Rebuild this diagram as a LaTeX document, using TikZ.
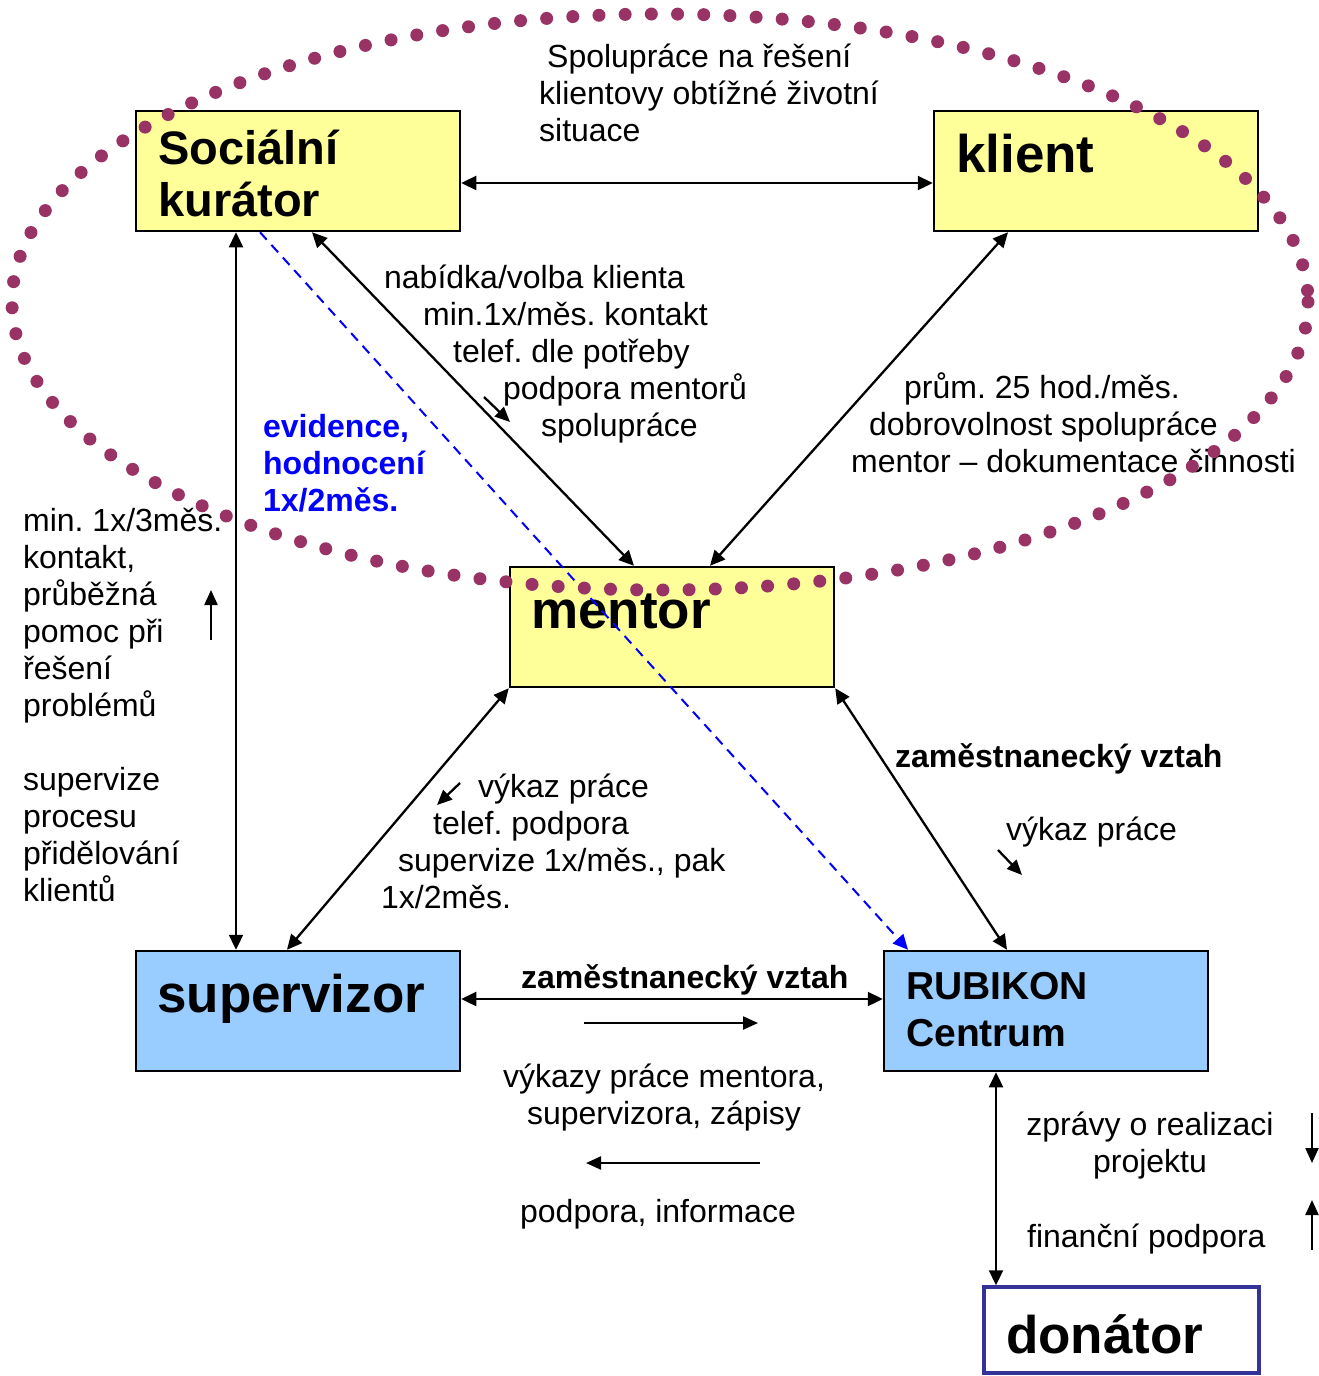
\documentclass[tikz,border=0pt]{standalone}
\usepackage{fontspec}
\setmainfont{Liberation Sans}
\usetikzlibrary{arrows.meta}
\definecolor{boxyellow}{HTML}{FFFF99}
\definecolor{boxblue}{HTML}{99CCFF}
\definecolor{dotpurple}{HTML}{993366}
\definecolor{donorblue}{HTML}{333399}
\frenchspacing

\begin{document}
\begin{tikzpicture}[x=1pt, y=-1pt, line width=2.3pt,
    box/.style={draw, line width=2.5pt, minimum width=324pt, minimum height=120pt, inner sep=0pt},
    bigtext/.style={anchor=base west, inner sep=0pt, align=left, font=\bfseries\fontsize{53}{58}\selectfont},
    note/.style={anchor=base west, inner sep=0pt, align=left, font=\fontsize{32}{37}\selectfont},
    boldnote/.style={note, font=\bfseries\fontsize{32}{37}\selectfont},
    link/.style={{Triangle[length=15pt,width=14pt]}-{Triangle[length=15pt,width=14pt]}},
    small/.style={-{Triangle[length=15pt,width=13pt]}}]
    \useasboundingbox (0,0) rectangle (1319,1376);

    % draw boxes
    \node[box, fill=boxyellow] (kurator) at (298,171) {};
    \node[box, fill=boxyellow] (klient) at (1096,171) {};
    \node[box, fill=boxyellow] (mentor) at (672,627) {};
    \node[box, fill=boxblue] (supervizor) at (298,1011) {};
    \node[box, fill=boxblue] (rubikon) at (1046,1011) {};
    \node[box, draw=donorblue, line width=3.5pt, fill=white, minimum width=275pt, minimum height=86pt] (donator) at (1121.5,1330) {};

    % box texts (base = last line)
    \node[bigtext, font=\bfseries\fontsize{47}{52}\selectfont] (kuratortext) at (157,216) {Sociální\\kurátor};
    \node[bigtext] (klienttext) at (955,172) {klient};
    \node[bigtext] (mentortext) at (530,628) {mentor};
    \node[bigtext] (supervizortext) at (156,1012) {supervizor};
    \node[bigtext, font=\bfseries\fontsize{39}{47}\selectfont] (rubikontext) at (905,1046) {RUBIKON\\Centrum};
    \node[bigtext] (donatortext) at (1005,1353) {donátor};

    % draw links between boxes
    \draw[link] ([yshift=-12pt]kurator.east) -- ([yshift=-12pt]klient.west);
    \draw[link] ([xshift=14pt]kurator.south) -- ([xshift=-38pt]mentor.north);
    \draw[link] ([xshift=-88pt]klient.south) -- ([xshift=38pt]mentor.north);
    \draw[link] ([xshift=-62pt]kurator.south) -- ([xshift=-62pt]supervizor.north);
    \draw[link] (mentor.south west) -- ([xshift=-11pt]supervizor.north);
    \draw[link] (mentor.south east) -- ([xshift=-39pt]rubikon.north);
    \draw[link] ([yshift=12pt]supervizor.east) -- ([yshift=12pt]rubikon.west);
    \draw[link] ([xshift=-50pt]rubikon.south) -- ([xshift=-125.5pt]donator.north);
    \draw[blue, line width=2pt, dash pattern=on 10pt off 7pt, -{Triangle[length=15pt,width=14pt]}] ([xshift=-38pt]kurator.south) -- ([xshift=-138pt]rubikon.north);

    % small direction arrows
    \draw[small] (484,397) -- (510,422);
    \draw[small] (211,640) -- (211,590);
    \draw[small] (460,783) -- (437,805);
    \draw[small] (998,850) -- (1022,875);
    \draw[small] (584,1023) -- (758,1023);
    \draw[small] (760,1163) -- (586,1163);
    \draw[small] (1312,1113) -- (1312,1163);
    \draw[small] (1312,1250) -- (1312,1200);

    % labels (base = last line)
    \node[note] (spoluprace) at (538,141) {\hspace*{8pt}Spolupráce na řešení\\klientovy obtížné životní\\situace};
    \node[note] (nabidka) at (383,436) {nabídka/volba klienta\\\hspace*{39pt}min.1x/měs. kontakt\\\hspace*{69pt}telef. dle potřeby\\\hspace*{119pt}podpora mentorů\\\hspace*{157pt}spolupráce};
    \node[note] (prum) at (850,472) {\hspace*{53pt}prům. 25 hod./měs.\\\hspace*{18pt}dobrovolnost spolupráce\\mentor -- dokumentace činnosti};
    \node[boldnote, text=blue] (evidence) at (262,511) {evidence,\\hodnocení\\1x/2měs.};
    \node[note] (kontakt) at (22,901) {min. 1x/3měs.\\kontakt,\\průběžná\\pomoc při\\řešení\\problémů\\[37pt]supervize\\procesu\\přidělování\\klientů};
    \node[note] (vykaz) at (380,908) {\hspace*{97pt}výkaz práce\\\hspace*{52pt}telef. podpora\\\hspace*{17pt}supervize 1x/měs., pak\\1x/2měs.};
    \node[boldnote] (vztahmentor) at (894,767) {zaměstnanecký vztah};
    \node[note] (vykazmentor) at (1005,840) {výkaz práce};
    \node[boldnote] (vztahsuper) at (520,988) {zaměstnanecký vztah};
    \node[note, anchor=base, align=center] (vykazy) at (664,1124) {výkazy práce mentora,\\supervizora, zápisy};
    \node[note] (podpora) at (519,1222) {podpora, informace};
    \node[note, anchor=base, align=center] (zpravy) at (1150,1172) {zprávy o realizaci\\projektu};
    \node[note] (financni) at (1026,1247) {finanční podpora};

    % dotted ellipse round the cooperation
    \draw[dotpurple, line width=13pt, line cap=round, dash pattern=on 0pt off 26.2pt] (660,302) ellipse [x radius=648, y radius=288];
\end{tikzpicture}
\end{document}
